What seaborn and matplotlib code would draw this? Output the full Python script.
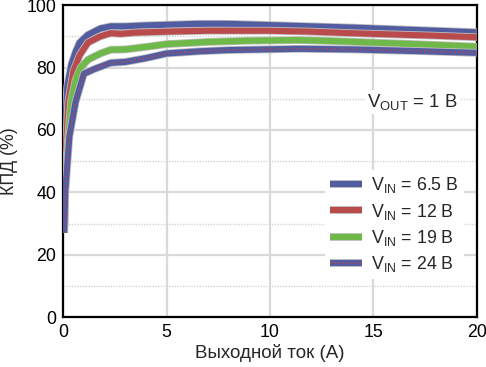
import matplotlib
matplotlib.use("Agg")
import matplotlib.pyplot as plt
import matplotlib.patheffects as pe
from matplotlib.lines import Line2D
from matplotlib.ticker import MultipleLocator
import pandas as pd
import seaborn as sns

# efficiency curves, VOUT = 1 V
vin_labels = ["6.5", "12", "19", "24"]

i_6v5 = [0.05, 0.1, 0.2, 0.4, 0.6, 0.8, 1.2, 1.8, 2.3, 3, 4, 5, 6.5, 8, 10, 12, 14, 16, 18, 20]
eff_6v5 = [30, 62, 74, 81, 85, 88, 90.5, 92.5, 93.2, 93.2, 93.5, 93.7, 94, 94, 93.6, 93.2, 92.8, 92.3, 91.8, 91.3]

i_12 = [0.05, 0.1, 0.25, 0.5, 0.8, 1.2, 1.8, 2.3, 2.8, 3.5, 5, 7, 10, 12, 14, 16, 18, 20]
eff_12 = [29, 50, 69, 79, 84, 88, 90, 91, 90.8, 91.2, 91.5, 91.8, 91.8, 91.5, 91, 90.6, 90.2, 89.7]

i_19 = [0.05, 0.1, 0.38, 0.6, 0.85, 1.2, 1.8, 2.3, 3, 4, 5, 7, 9, 11.4, 13, 15, 17, 20]
eff_19 = [28, 45, 69, 76, 80, 82.5, 84.5, 85.7, 85.8, 86.6, 87.5, 88.2, 88.6, 88.8, 88.5, 88, 87.5, 86.7]

i_24 = [0.05, 0.1, 0.3, 0.6, 1.0, 1.5, 2.3, 3.0, 4, 5, 6.6, 8, 11.4, 14, 17, 20]
eff_24 = [27, 40, 58, 69, 78, 79.5, 81.5, 81.8, 83, 84.5, 85.2, 85.6, 86, 85.8, 85.3, 84.7]

colors = {"6.5": "#525ca0", "12": "#b94b4c", "19": "#6fb84a", "24": "#525ca0"}
dot_red = "#c0454a"

sns.set_theme(style="white")
plt.rcParams["font.family"] = ["Liberation Sans", "DejaVu Sans"]
plt.rcParams["mathtext.fontset"] = "custom"
plt.rcParams["mathtext.rm"] = "Liberation Sans"
plt.rcParams["mathtext.it"] = "Liberation Sans:italic"
plt.rcParams["lines.solid_capstyle"] = "butt"

frames = []
for vin, xs, ys in zip(vin_labels, [i_6v5, i_12, i_19, i_24], [eff_6v5, eff_12, eff_19, eff_24]):
    frames.append(pd.DataFrame({"current": xs, "eff": ys, "vin": vin}))
df = pd.concat(frames, ignore_index=True)

fig = plt.figure(figsize=(4.86, 3.67), dpi=100)
ax = fig.add_axes([0.13, 0.136, 0.851, 0.85])

halo = [pe.Stroke(linewidth=5.6, foreground="#bdbdbd"), pe.Normal()]
for vin in vin_labels:
    sub = df[df["vin"] == vin]
    sns.lineplot(data=sub, x="current", y="eff", color=colors[vin], linewidth=4.4,
                 estimator=None, sort=False, ax=ax, legend=False,
                 path_effects=halo, zorder=3)
sns.lineplot(data=df[df["vin"] == "24"], x="current", y="eff", color=dot_red,
             linewidth=1.4, dashes=False, estimator=None, sort=False, ax=ax,
             legend=False, zorder=4, linestyle=(0, (0.6, 1.6)))

ax.set_xlim(0, 20)
ax.set_ylim(0, 100)
ax.xaxis.set_major_locator(MultipleLocator(5))
ax.yaxis.set_major_locator(MultipleLocator(20))
ax.yaxis.set_minor_locator(MultipleLocator(10))
ax.grid(True, which="major", color="#d9d9d9", linewidth=1.6, zorder=0)
ax.grid(True, which="minor", axis="y", color="#d4d4d4", linewidth=1.0,
        linestyle=(0, (1, 1)), zorder=0)
ax.set_axisbelow(True)
ax.tick_params(axis="both", which="both", length=0, labelsize=12.8, pad=5,
               colors="black")
for side in ax.spines.values():
    side.set_color("black")
    side.set_linewidth(1.6)

ax.set_xlabel("Выходной ток (A)", fontsize=13.5, labelpad=2)
ax.set_ylabel("КПД (%)", fontsize=12.8, labelpad=6)

ax.text(16.9, 69, r"V$_{\rm OUT}$ = 1 В", fontsize=13.4, ha="center", va="center",
        bbox=dict(facecolor="white", edgecolor="none", pad=1.5), zorder=5)

handles = []
for vin in vin_labels:
    h = Line2D([], [], color=colors[vin], linewidth=4.4,
               path_effects=[pe.Stroke(linewidth=5.6, foreground="#bdbdbd"), pe.Normal()])
    handles.append(h)
h24 = Line2D([], [], color=dot_red, linewidth=1.4, linestyle=(0, (0.6, 1.6)))
handles[3] = (handles[3], h24)
labels = [r"V$_{\rm IN}$ = %s В" % v for v in vin_labels]
leg = ax.legend(handles, labels, loc="lower right", bbox_to_anchor=(0.99, 0.092),
                fontsize=12.8, frameon=True, facecolor="white", edgecolor="none",
                framealpha=1, fancybox=False, handlelength=1.8, handletextpad=0.5,
                labelspacing=0.35, borderpad=0.3)
leg.set_zorder(5)

fig.savefig("out.png", dpi=100)
